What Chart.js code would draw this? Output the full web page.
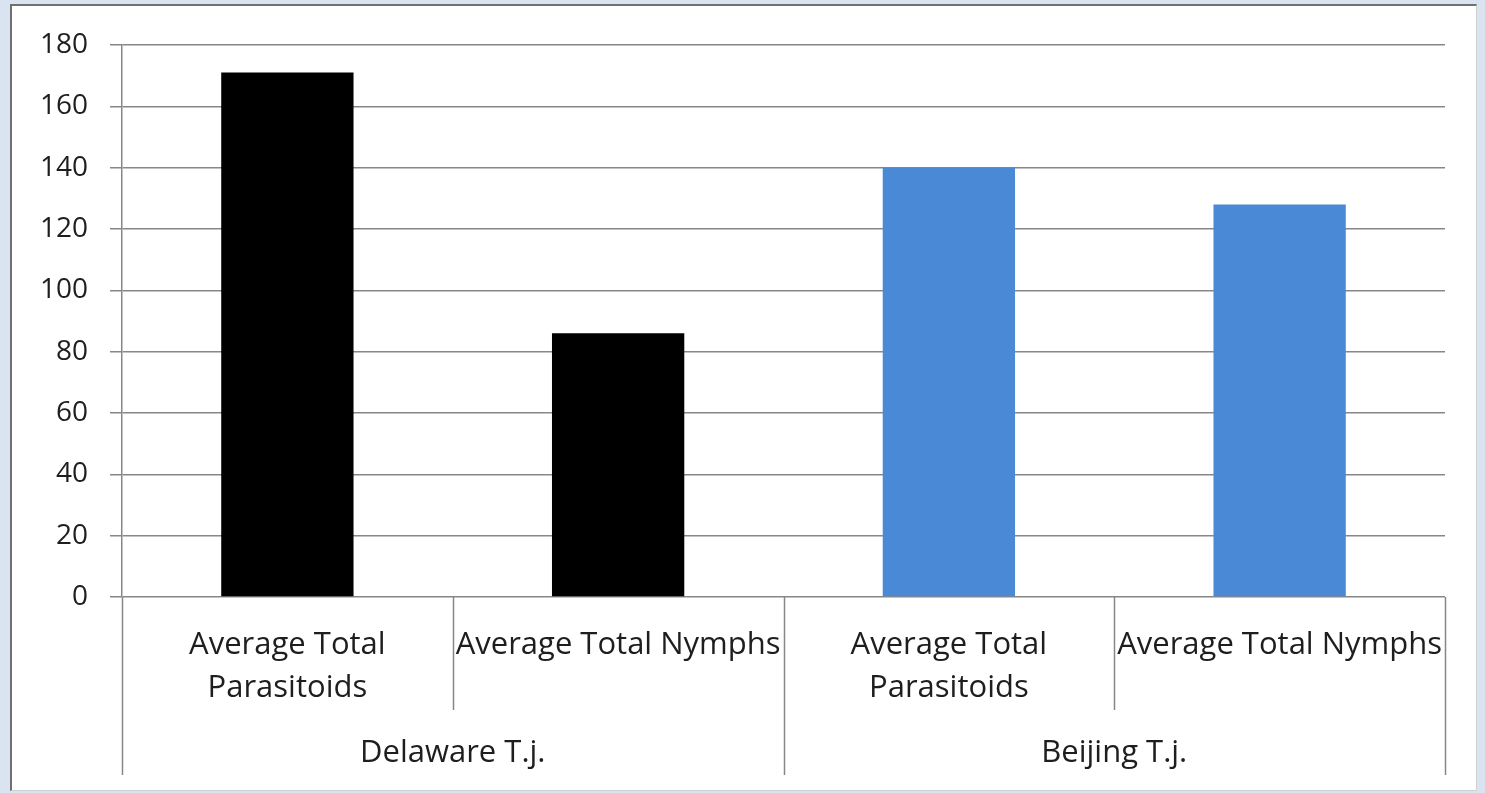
<!DOCTYPE html>
<html>
<head>
<meta charset="utf-8">
<script src="https://cdn.jsdelivr.net/npm/chart.js@4.4.1/dist/chart.umd.min.js"></script>
<style>
  html, body { margin: 0; padding: 0; }
  body { width: 1485px; height: 793px; background: #dae3f0; position: relative; overflow: hidden; }
  #frame {
    position: absolute; left: 10px; top: 4px; width: 1467px; height: 787px;
    background: #fff; box-sizing: border-box;
    border-left: 2px solid #707070; border-top: 2px solid #707070;
    border-right: 1px solid #cfcfcf; border-bottom: 1px solid #cfcfcf;
  }
  #chart { position: absolute; left: 0; top: 0; }
</style>
</head>
<body>
<div id="frame"><canvas id="chart" width="1464" height="784"></canvas></div>
<script>
// outer grouping and inner measures
const groups = ['Delaware T.j.', 'Beijing T.j.'];
const categories = [
  ['Average Total', 'Parasitoids'],
  'Average Total Nymphs',
  ['Average Total', 'Parasitoids'],
  'Average Total Nymphs'
];
const values = [171, 86, 140, 128];
const barColors = ['#000000', '#000000', '#4a89d6', '#4a89d6'];
const yTicks = { min: 0, max: 180, step: 20 };

const lineColor = '#878787';
const textColor = '#1e1e1e';
const labelFont = { family: '"Open Sans", sans-serif', size: 31, lineHeight: 1.39 };

// vertical separators of the two-level category axis
const categoryDividers = {
  id: 'categoryDividers',
  afterDraw(chart) {
    const { ctx, chartArea } = chart;
    const x = chart.scales.x;
    const x2 = chart.scales.x2;
    const n = categories.length;
    const perGroup = n / groups.length;
    ctx.save();
    ctx.strokeStyle = lineColor;
    ctx.lineWidth = 1.5;
    for (let i = 0; i <= n; i++) {
      const px = Math.round(x.left + i * x.width / n) + 0.5;
      const bottom = (i % perGroup === 0) ? x2.bottom : x.bottom;
      ctx.beginPath();
      ctx.moveTo(px, chartArea.bottom);
      ctx.lineTo(px, bottom);
      ctx.stroke();
    }
    ctx.restore();
  }
};

new Chart(document.getElementById('chart'), {
  type: 'bar',
  data: {
    labels: categories,
    datasets: [{
      data: values,
      backgroundColor: barColors,
      borderWidth: 0,
      categoryPercentage: 1,
      barPercentage: 0.4
    }]
  },
  options: {
    responsive: false,
    animation: false,
    layout: { padding: { top: 39, right: 31, bottom: 15, left: 0 } },
    plugins: { legend: { display: false }, tooltip: { enabled: false } },
    scales: {
      y: {
        min: yTicks.min, max: yTicks.max,
        afterFit(scale) { scale.width = 110; },
        ticks: { stepSize: yTicks.step, padding: 22, color: textColor, font: { family: '"Open Sans", sans-serif', size: 28 } },
        grid: { color: lineColor, lineWidth: 1.5, tickLength: 12 },
        border: { color: lineColor, width: 1.5 }
      },
      x: {
        weight: 0,
        afterFit(scale) { scale.height = 113; },
        grid: { display: false },
        border: { display: false },
        ticks: { autoSkip: false, maxRotation: 0, minRotation: 0, padding: 19, color: textColor, font: labelFont }
      },
      x2: {
        type: 'category',
        position: 'bottom',
        weight: 1,
        labels: groups,
        offset: true,
        afterFit(scale) { scale.height = 65; },
        grid: { display: false },
        border: { display: false },
        ticks: { autoSkip: false, maxRotation: 0, minRotation: 0, padding: 14, color: textColor, font: labelFont }
      }
    }
  },
  plugins: [categoryDividers]
});
</script>
</body>
</html>
